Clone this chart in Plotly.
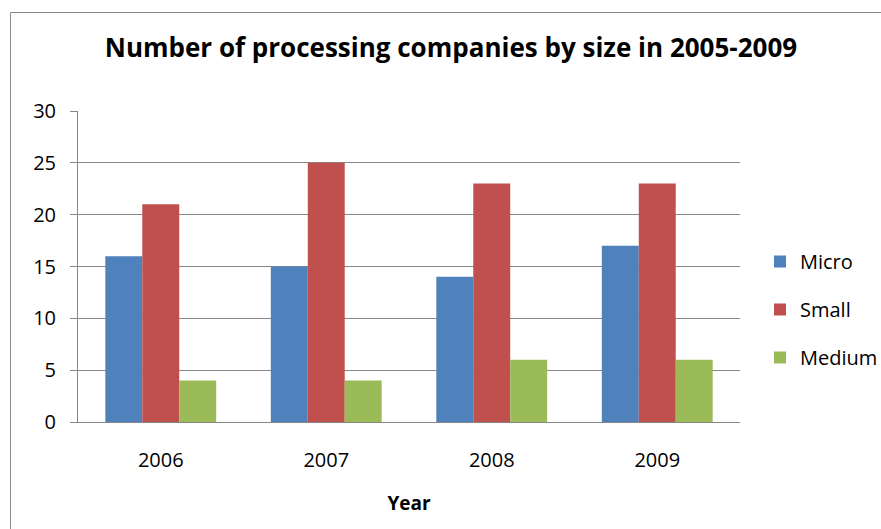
import plotly.graph_objects as go

# Chart data
years = ["2006", "2007", "2008", "2009"]
micro = [16, 15, 14, 17]
small = [21, 25, 23, 23]
medium = [4, 4, 6, 6]
y_ticks = [0, 5, 10, 15, 20, 25, 30]

series = [
    ("Micro", micro, "#4F81BD"),
    ("Small", small, "#C0504D"),
    ("Medium", medium, "#9BBB59"),
]

FONT = "'Open Sans', sans-serif"
GRID = "#878787"

fig = go.Figure()
for i, (name, vals, color) in enumerate(series):
    fig.add_trace(go.Bar(
        x=years, y=vals, name=name,
        marker=dict(color=color, line=dict(width=0)),
        legendgroup=name,
    ))

# plot area in pixels: left 78, right 740, top 111, bottom 422
W, H = 881, 529
L, R, T, B = 78, 740, 111, 422
pw, ph = R - L, B - T


def px(x):
    return (x - L) / pw


def py(y):
    return (B - y) / ph


fig.update_layout(
    width=W, height=H,
    margin=dict(l=L, r=W - R, t=T, b=H - B, pad=0, autoexpand=False),
    paper_bgcolor="white", plot_bgcolor="white",
    font=dict(family=FONT, size=20, color="#000000"),
    barmode="group", bargap=0.33, bargroupgap=0,
    title=dict(
        text="<b>Number of processing companies by size in 2005-2009</b>",
        x=451 / W, xanchor="center", y=1 - 48 / H, yanchor="middle",
        font=dict(size=26, family=FONT, color="#000000"),
    ),
    legend=dict(
        x=px(760), xanchor="left", y=py(242), yanchor="top",
        font=dict(size=20, family=FONT),
        tracegroupgap=19, bgcolor="rgba(0,0,0,0)",
        itemclick=False,
    ),
    showlegend=True,
    xaxis=dict(
        showgrid=False, showline=True, linecolor=GRID, linewidth=1,
        ticks="", ticklabelstandoff=20,
        tickfont=dict(size=20, family=FONT),
        title=dict(text="<b>Year</b>", font=dict(size=19, family=FONT), standoff=24),
        fixedrange=True,
    ),
    yaxis=dict(
        range=[0, 30], tickvals=y_ticks,
        showgrid=True, gridcolor=GRID, gridwidth=1,
        showline=True, linecolor=GRID, linewidth=1,
        ticks="outside", ticklen=7, tickcolor=GRID,
        ticklabelstandoff=10,
        tickfont=dict(size=20, family=FONT),
        zeroline=False, fixedrange=True,
    ),
    shapes=[
        # chart border
        dict(type="rect", xref="paper", yref="paper",
             x0=px(10.5), y0=py(560), x1=px(900), y1=py(12.5),
             line=dict(color="#8C8C8C", width=1), fillcolor="rgba(0,0,0,0)",
             layer="below"),
    ],
)

fig.write_html("out.html", config={"displayModeBar": False})
